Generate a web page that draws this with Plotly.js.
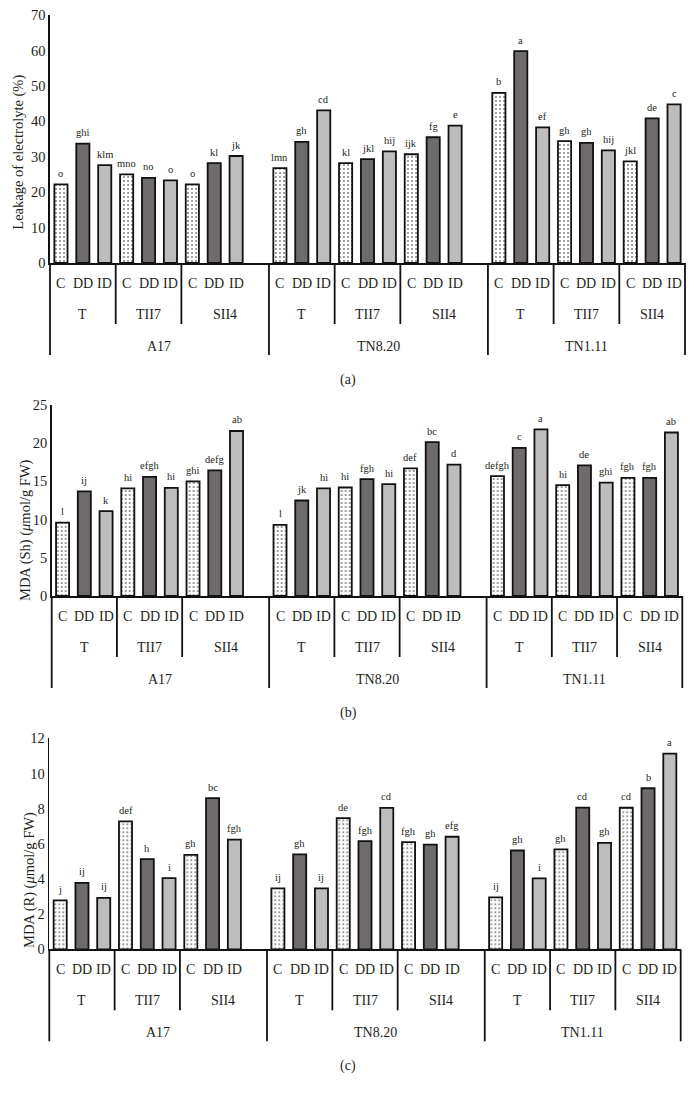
<!DOCTYPE html>
<html><head><meta charset="utf-8">
<script src="https://cdn.plot.ly/plotly-3.0.1.min.js"></script>
<style>html,body{margin:0;padding:0;background:#fff}#chart{width:696px;height:1096px}</style>
</head><body><div id="chart"></div>
<script>
// ---- categories ----
const groups = ['A17', 'TN8.20', 'TN1.11'];
const subgroups = ['T', 'TII7', 'SII4'];
const treatments = ['C', 'DD', 'ID'];
const captions = ['(a)', '(b)', '(c)'];
const yTitles = ['Leakage of electrolyte (%)', 'MDA (Sh) (<i>\u03bc</i>mol/g FW)', 'MDA (R) (<i>\u03bc</i>mol/g FW)'];

// ---- values, order: A17(T,TII7,SII4), TN8.20(T,TII7,SII4), TN1.11(T,TII7,SII4) ----
const leakC  = [22.2, 25.0, 22.2, 26.8, 28.2, 30.7, 48.0, 34.4, 28.7];
const leakDD = [33.7, 24.0, 28.2, 34.2, 29.3, 35.5, 59.8, 33.9, 40.8];
const leakID = [27.6, 23.3, 30.2, 43.1, 31.5, 38.8, 38.3, 31.8, 44.8];
const leakC_let  = ['o', 'mno', 'o', 'lmn', 'kl', 'ijk', 'b', 'gh', 'jkl'];
const leakDD_let = ['ghi', 'no', 'kl', 'gh', 'jkl', 'fg', 'a', 'gh', 'de'];
const leakID_let = ['klm', 'o', 'jk', 'cd', 'hij', 'e', 'ef', 'hij', 'c'];

const shC  = [9.6, 14.1, 15.0, 9.3, 14.2, 16.7, 15.7, 14.5, 15.45];
const shDD = [13.7, 15.6, 16.45, 12.5, 15.3, 20.15, 19.4, 17.1, 15.45];
const shID = [11.1, 14.15, 21.6, 14.1, 14.65, 17.2, 21.8, 14.85, 21.4];
const shC_let  = ['l', 'hi', 'ghi', 'l', 'hi', 'def', 'defgh', 'hi', 'fgh'];
const shDD_let = ['ij', 'efgh', 'defg', 'jk', 'fgh', 'bc', 'c', 'de', 'fgh'];
const shID_let = ['k', 'hi', 'ab', 'hi', 'hi', 'd', 'a', 'ghi', 'ab'];

const rC  = [2.78, 7.27, 5.37, 3.46, 7.46, 6.1, 2.95, 5.68, 8.05];
const rDD = [3.78, 5.13, 8.6, 5.4, 6.15, 5.95, 5.62, 8.06, 9.16];
const rID = [2.92, 4.05, 6.24, 3.46, 8.04, 6.4, 4.03, 6.05, 11.13];
const rC_let  = ['j', 'def', 'gh', 'ij', 'de', 'fgh', 'ij', 'gh', 'cd'];
const rDD_let = ['ij', 'h', 'bc', 'gh', 'fgh', 'gh', 'gh', 'cd', 'b'];
const rID_let = ['ij', 'i', 'fgh', 'ij', 'cd', 'efg', 'i', 'gh', 'a'];

const yMax = [70, 25, 12];
const yStep = [10, 5, 2];

// ---- styling ----
const FONT = 'Liberation Serif, Times New Roman, serif';
const INK = '#231f20';
const fills = {
  C: {color: '#ffffff', pattern: {shape: '.', size: 4, solidity: 0.2, fgcolor: '#000', bgcolor: '#ffffff', fillmode: 'overlay'}},
  DD: {color: '#6f6b6b'},
  ID: {color: '#bdbdbd'}
};
const xDomains = [[50/696, 685/696], [51.7/696, 682.3/696], [49.3/696, 680.7/696]];
const yDomains = [[1-263/1096, 1-15/1096], [1-596/1096, 1-405/1096], [1-949.3/1096, 1-738.3/1096]];
const titlePos = [[19/696, 1-152.7/1096], [26/696, 1-530/1096], [29/696, 1-880/1096]];

const panels = [
  {vals: [leakC, leakDD, leakID], lets: [leakC_let, leakDD_let, leakID_let]},
  {vals: [shC, shDD, shID], lets: [shC_let, shDD_let, shID_let]},
  {vals: [rC, rDD, rID], lets: [rC_let, rDD_let, rID_let]}
];

function pos(g, s, t) { return g * 10 + s * 3 + t; }
const lastPos = pos(groups.length - 1, subgroups.length - 1, treatments.length - 1);
const xMin = -0.5, xMax = lastPos + 0.5;
const groupEdges = groups.map((_, g) => pos(g, 0, 0) - 0.5).concat([xMax]);
function frac(v) { return (v - xMin) / (xMax - xMin); }

const traces = [];
const annotations = [];
const shapes = [];
const layout = {
  width: 696, height: 1096,
  margin: {l: 0, r: 0, t: 0, b: 0},
  paper_bgcolor: '#fff', plot_bgcolor: '#fff',
  showlegend: false, barmode: 'overlay',
  font: {family: FONT, color: INK, size: 14}
};

panels.forEach((p, pi) => {
  const sfx = pi === 0 ? '' : String(pi + 1);
  const xr = 'x' + sfx, yr = 'y' + sfx;
  const xd = xr + ' domain', yd = yr + ' domain';
  treatments.forEach((tr, ti) => {
    const xs = [], ys = [];
    groups.forEach((g, gi) => subgroups.forEach((s, si) => {
      const k = gi * 3 + si;
      xs.push(pos(gi, si, ti)); ys.push(p.vals[ti][k]);
      annotations.push({xref: xr, yref: yr, x: pos(gi, si, ti), y: p.vals[ti][k], text: p.lets[ti][k],
        showarrow: false, yanchor: 'middle', yshift: 11, font: {size: 10.5, family: FONT, color: INK}});
    }));
    traces.push({type: 'bar', name: tr, x: xs, y: ys, xaxis: xr, yaxis: yr, width: 0.6,
      marker: Object.assign({line: {color: '#111', width: 1.8}}, fills[tr]), hoverinfo: 'skip'});
  });

  layout['xaxis' + sfx] = {domain: xDomains[pi], anchor: yr, range: [xMin, xMax],
    showgrid: false, zeroline: false, showticklabels: false, ticks: '',
    showline: true, linecolor: '#111', linewidth: 1.6, fixedrange: true};
  layout['yaxis' + sfx] = {domain: yDomains[pi], anchor: xr, range: [0, yMax[pi]], dtick: yStep[pi],
    showgrid: false, zeroline: false, ticks: '', showline: true, linecolor: '#111', linewidth: 1.6,
    tickfont: {family: FONT, size: 14.5, color: INK}, fixedrange: true};

  // y title
  annotations.push({xref: 'paper', yref: 'paper', x: titlePos[pi][0], y: titlePos[pi][1], text: yTitles[pi],
    textangle: -90, showarrow: false, xanchor: 'center', yanchor: 'middle', font: {size: 14.5, family: FONT, color: INK}});

  // category table
  groups.forEach((g, gi) => {
    subgroups.forEach((s, si) => {
      treatments.forEach((tr, ti) => {
        annotations.push({xref: xr, yref: yd, x: pos(gi, si, ti), y: 0, yshift: -20, text: tr,
          showarrow: false, yanchor: 'middle', font: {size: 14, family: FONT, color: INK}});
      });
      const left = pos(gi, si, 0) - 0.5;
      const right = si < subgroups.length - 1 ? pos(gi, si + 1, 0) - 0.5 : groupEdges[gi + 1];
      annotations.push({xref: xr, yref: yd, x: (left + right) / 2, y: 0, yshift: -51, text: s,
        showarrow: false, yanchor: 'middle', font: {size: 14, family: FONT, color: INK}});
      if (si > 0) {
        shapes.push({type: 'line', xref: xd, yref: yd, ysizemode: 'pixel', yanchor: 0,
          x0: frac(left), x1: frac(left), y0: 0, y1: -61, line: {color: '#111', width: 1.8}});
      }
    });
    annotations.push({xref: xr, yref: yd, x: (groupEdges[gi] + groupEdges[gi + 1]) / 2, y: 0, yshift: -83, text: g,
      showarrow: false, yanchor: 'middle', font: {size: 14, family: FONT, color: INK}});
  });
  groupEdges.forEach(e => {
    shapes.push({type: 'line', xref: xd, yref: yd, ysizemode: 'pixel', yanchor: 0,
      x0: frac(e), x1: frac(e), y0: 0, y1: -92, line: {color: '#111', width: 1.8}});
  });
  annotations.push({xref: 'paper', yref: yd, x: 0.5, y: 0, yshift: -117, text: captions[pi],
    showarrow: false, yanchor: 'middle', font: {size: 14, family: FONT, color: INK}});
});

layout.annotations = annotations;
layout.shapes = shapes;
Plotly.newPlot('chart', traces, layout, {staticPlot: true, displayModeBar: false});
</script>
</body></html>
